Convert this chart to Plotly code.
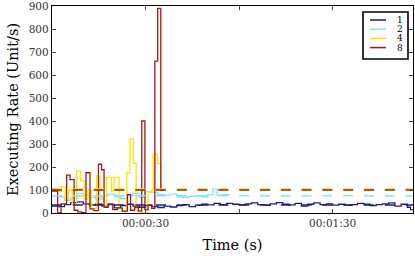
import plotly.graph_objects as go

# ---- data (seconds, Unit/s) ----
navy_t = [0, 2, 4, 6, 8, 10, 12, 14, 16, 18, 20, 22, 24, 26, 28, 30, 32, 34, 36, 38,
          40, 42, 44, 46, 48, 50, 52, 54, 56, 58, 60, 62, 64, 66, 68, 70, 72, 74, 76, 78,
          80, 82, 84, 86, 88, 90, 92, 94, 96, 98, 100, 102, 104, 106, 108, 110, 112, 114, 115, 115.8]
navy_v = [30, 28, 36, 45, 48, 40, 35, 38, 30, 36, 22, 32, 38, 30, 25, 33, 28, 24, 30, 26,
          32, 36, 28, 34, 38, 35, 42, 36, 42, 38, 35, 40, 44, 36, 33, 40, 45, 38, 35, 42,
          30, 38, 44, 36, 40, 34, 38, 33, 36, 42, 38, 32, 36, 40, 44, 30, 38, 25, 15, 15]

cyan_t = [0, 2, 4, 6, 8, 10, 12, 14, 16, 18, 20, 22, 24, 26, 28, 30, 32, 34, 36, 38,
          40, 42, 44, 46, 48, 50, 51.6, 53, 55, 57]
cyan_v = [75, 70, 55, 65, 85, 78, 68, 60, 75, 82, 70, 62, 75, 85, 68, 93, 90, 80, 78, 82,
          70, 68, 72, 75, 70, 80, 104, 78, 80, 80]

yellow_t = [0, 1.5, 3.0, 4.2, 5.4, 6.5, 7.9, 9.2, 10.3, 11.5, 12.6, 14.3, 15.4, 16.5, 17.5,
            19.1, 19.9, 21.5, 22.6, 24.0, 25.0, 26.1, 27.0, 28.5, 30.8, 32.0, 32.5, 33.8, 34.9, 35.7]
yellow_v = [105, 95, 115, 60, 100, 40, 183, 140, 60, 100, 20, 160, 70, 30, 155,
            95, 155, 20, 5, 175, 322, 216, 10, 0, 90, 100, 255, 215, 105, 105]

red_t = [0, 1.8, 2.9, 4.7, 5.8, 7.1, 8.3, 9.5, 10.9, 12.2, 13.4, 14.9, 15.9, 16.7, 18.0,
         19.5, 21.0, 22.5, 24.2, 25.2, 26.5, 27.7, 28.8, 29.8, 30.8, 32.0, 33.0, 33.9, 34.9, 35.7]
red_v = [95, 0, 40, 165, 145, 12, 5, 2, 175, 18, 10, 212, 188, 25, 40,
         15, 22, 8, 80, 12, 25, 8, 400, 15, 35, 20, 660, 890, 100, 100]

series_names = ["1", "2", "4", "8"]
series_colors = ["#1c1c84", "#7fe6ff", "#ffe200", "#9e1a1a"]
ref_levels = [35, 75, 104, 100]          # dashed reference level per series
time_span = [0, 115.8]
x_tick_vals = [30, 60, 90]
x_tick_text = ["00:00:30", "", "00:01:30"]

series_t = [navy_t, cyan_t, yellow_t, red_t]
series_v = [navy_v, cyan_v, yellow_v, red_v]

fig = go.Figure()
for t, v, c in zip(series_t, series_v, series_colors):
    fig.add_trace(go.Scatter(x=t, y=v, mode="lines", showlegend=False, hoverinfo="skip",
                             line=dict(shape="hv", color=c, width=1.3)))
for lvl, c in zip(ref_levels, series_colors):
    fig.add_trace(go.Scatter(x=time_span, y=[lvl, lvl], mode="lines", showlegend=False,
                             hoverinfo="skip",
                             line=dict(color=c, width=1.6, dash="10px,10.8px")))

# manual legend (paper coords)
L = dict(l=52, r=2, t=6, b=43)
W, H = 415, 256
pw, ph = W - L["l"] - L["r"], H - L["t"] - L["b"]
def px(x): return (x - L["l"]) / pw
def py(y): return (H - L["b"] - y) / ph

shapes = [dict(type="rect", xref="paper", yref="paper", x0=px(363), x1=px(408),
               y0=py(59), y1=py(12), line=dict(color="black", width=1.6),
               fillcolor="white", layer="above")]
annotations = []
for i, (n, c) in enumerate(zip(series_names, series_colors)):
    yy = 20 + i * 9.2
    shapes.append(dict(type="line", xref="paper", yref="paper", x0=px(370), x1=px(386),
                       y0=py(yy), y1=py(yy), line=dict(color=c, width=1.5), layer="above"))
    annotations.append(dict(xref="paper", yref="paper", x=px(400), y=py(yy), text=n,
                            showarrow=False, xanchor="center", yanchor="middle",
                            font=dict(family="DejaVu Serif", size=9, color="black")))

axis_common = dict(showline=True, linecolor="black", linewidth=1.2, mirror="ticks",
                   ticks="inside", ticklen=4, tickcolor="#444", tickwidth=1,
                   showgrid=False, zeroline=False, automargin=False,
                   ticklabeloverflow="allow",
                   tickfont=dict(family="DejaVu Serif", size=10.5, color="#333"))

fig.update_layout(
    width=W, height=H, margin=L, plot_bgcolor="white", paper_bgcolor="white",
    font=dict(family="DejaVu Serif", color="black"),
    xaxis=dict(range=time_span, tickvals=x_tick_vals, ticktext=x_tick_text,
               title=dict(text="Time (s)", font=dict(size=14.5), standoff=12), **axis_common),
    yaxis=dict(range=[0, 900], dtick=100,
               title=dict(text="Executing Rate (Unit/s)", font=dict(size=14.5), standoff=6),
               **axis_common),
    shapes=shapes, annotations=annotations,
)
fig.write_html("out.html", config={"displayModeBar": False, "staticPlot": True},
               post_script="document.body.style.margin='0px';document.body.style.overflow='hidden';")
